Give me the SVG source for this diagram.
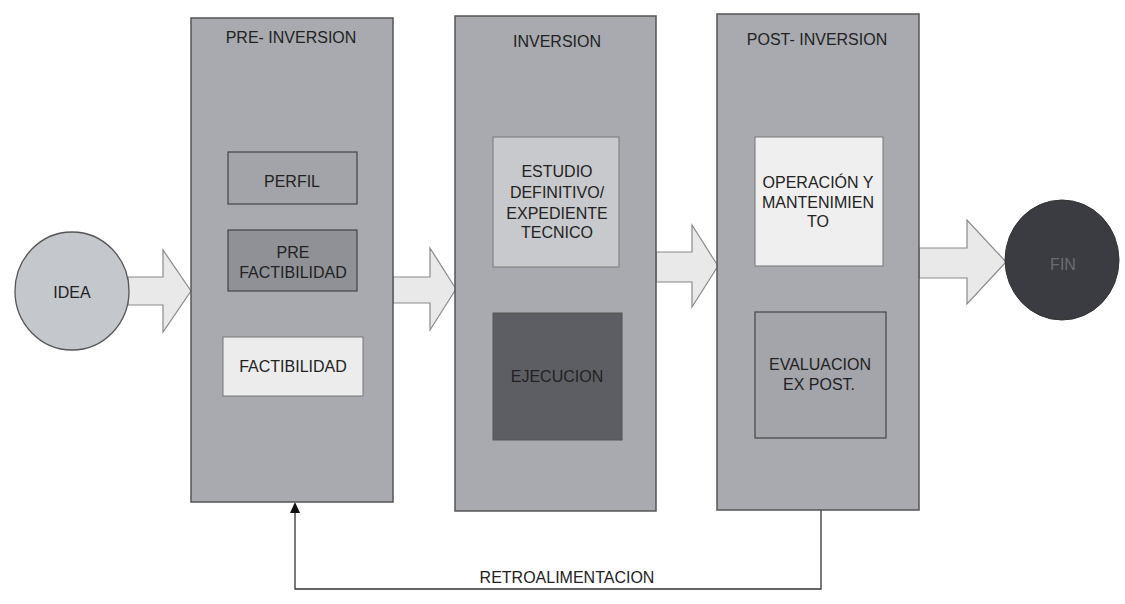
<svg xmlns="http://www.w3.org/2000/svg" width="1125" height="604" viewBox="0 0 1125 604">
<style>
text{font-family:"Liberation Sans",Arial,sans-serif;font-size:16px;fill:#222;text-anchor:middle}
.panel{fill:#a8aaaf;stroke:#555;stroke-width:1.5}
.box{stroke:#444;stroke-width:1.2}
.arrow{fill:#e9e9e9;stroke:#8a8a8a;stroke-width:1.2}
.fb{fill:none;stroke:#333;stroke-width:1.3}
</style>
<defs>
<marker id="ah" markerWidth="10" markerHeight="12" refX="5" refY="0" orient="auto" markerUnits="userSpaceOnUse" viewBox="0 0 10 12">
<path d="M0,11 L5,0 L10,11 Z" fill="#111"/>
</marker>
</defs>
<rect width="1125" height="604" fill="#fff"/>

<g id="connectors">
<polygon class="arrow" points="128,277 163,277 163,250 191,291 163,332 163,305 128,305"/>
<polygon class="arrow" points="393,277 430,277 430,248 456,289 430,330 430,303 393,303"/>
<polygon class="arrow" points="656,252 692,252 692,225 718,266 692,307 692,282 656,282"/>
<polygon class="arrow" points="919,248 967,248 967,220 1006,262 967,304 967,278 919,278"/>
<path class="fb" d="M821,510 L821,589 L295,589 L295,512"/>
<path d="M290,513 L295,502 L300,513 Z" fill="#111"/>
<text x="567" y="583">RETROALIMENTACION</text>
</g>

<g id="idea">
<ellipse cx="72" cy="291" rx="57" ry="59" fill="#c4c7cc" stroke="#555" stroke-width="1.3"/>
<text x="72" y="298">IDEA</text>
</g>

<g id="pre-inversion">
<rect class="panel" x="191" y="18" width="202" height="484"/>
<text x="291" y="43">PRE- INVERSION</text>
<g id="perfil">
<rect class="box" x="228" y="152" width="129" height="52" fill="#a2a4a9"/>
<text x="292" y="187">PERFIL</text>
</g>
<g id="prefactibilidad">
<rect class="box" x="228" y="230" width="129" height="61" fill="#8f9196"/>
<text x="293" y="258">PRE</text>
<text x="293" y="278">FACTIBILIDAD</text>
</g>
<g id="factibilidad">
<rect x="223" y="337" width="140" height="59" fill="#ececec" stroke="#777" stroke-width="1"/>
<text x="293" y="372">FACTIBILIDAD</text>
</g>
</g>

<g id="inversion">
<rect class="panel" x="455" y="16" width="201" height="495"/>
<text x="557" y="47">INVERSION</text>
<g id="estudio">
<rect x="493" y="137" width="126" height="130" fill="#c8c9cc" stroke="#777" stroke-width="1"/>
<text x="557" y="177">ESTUDIO</text>
<text x="557" y="198">DEFINITIVO/</text>
<text x="557" y="219">EXPEDIENTE</text>
<text x="557" y="238">TECNICO</text>
</g>
<g id="ejecucion">
<rect x="493" y="313" width="129" height="127" fill="#5d5e63" stroke="#555" stroke-width="1"/>
<text x="557" y="382">EJECUCION</text>
</g>
</g>

<g id="post-inversion">
<rect class="panel" x="717" y="14" width="202" height="496"/>
<text x="817" y="45">POST- INVERSION</text>
<g id="operacion">
<rect x="755" y="137" width="128" height="129" fill="#efefef" stroke="#777" stroke-width="1"/>
<text x="818" y="188">OPERACIÓN Y</text>
<text x="818" y="208">MANTENIMIEN</text>
<text x="818" y="227">TO</text>
</g>
<g id="evaluacion">
<rect class="box" x="755" y="312" width="131" height="126" fill="#a3a5aa" stroke="#333"/>
<text x="820" y="370">EVALUACION</text>
<text x="819" y="390">EX POST.</text>
</g>
</g>

<g id="fin">
<ellipse cx="1062" cy="260" rx="57" ry="60" fill="#3b3c41" stroke="#333" stroke-width="1"/>
<text x="1063" y="270" style="fill:#6a6b70">FIN</text>
</g>
</svg>
